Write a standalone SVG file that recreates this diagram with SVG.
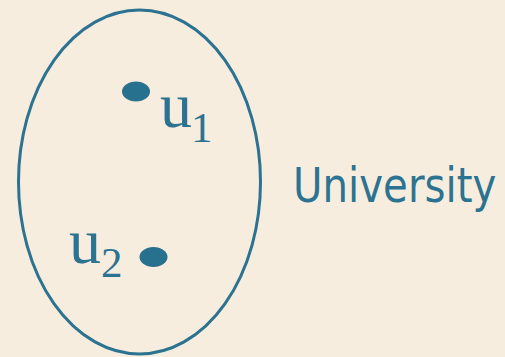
<svg xmlns="http://www.w3.org/2000/svg" width="505" height="357" viewBox="0 0 505 357">
<style>
.bg{fill:#F7EDDF}
.set{fill:none;stroke:#2B7391;stroke-width:3}
.dot{fill:#27708E}
.lbl{fill:#2B7391;font-family:"Liberation Serif","Times New Roman",serif;font-size:64px}
.sub{font-size:43px}
.name{fill:#2B7391;font-family:"DejaVu Sans",Verdana,sans-serif;font-size:48px}
</style>
<rect class="bg" x="0" y="0" width="505" height="357"/>
<g id="set-university">
<ellipse class="set" cx="139.5" cy="182" rx="121" ry="172"/>
</g>
<g id="node-u1">
<ellipse class="dot" cx="136" cy="91.5" rx="14" ry="10"/>
<text class="lbl" x="160" y="127">u<tspan class="sub" dx="-1" dy="14.5">1</tspan></text>
</g>
<g id="node-u2">
<ellipse class="dot" cx="153.5" cy="257" rx="14" ry="10"/>
<text class="lbl" x="69" y="263">u<tspan class="sub" dx="0" dy="14">2</tspan></text>
</g>
<g id="label-university">
<text class="name" transform="translate(293,201.5) scale(0.84,1)" x="0" y="0">University</text>
</g>
<g id="connectors"></g>
</svg>
